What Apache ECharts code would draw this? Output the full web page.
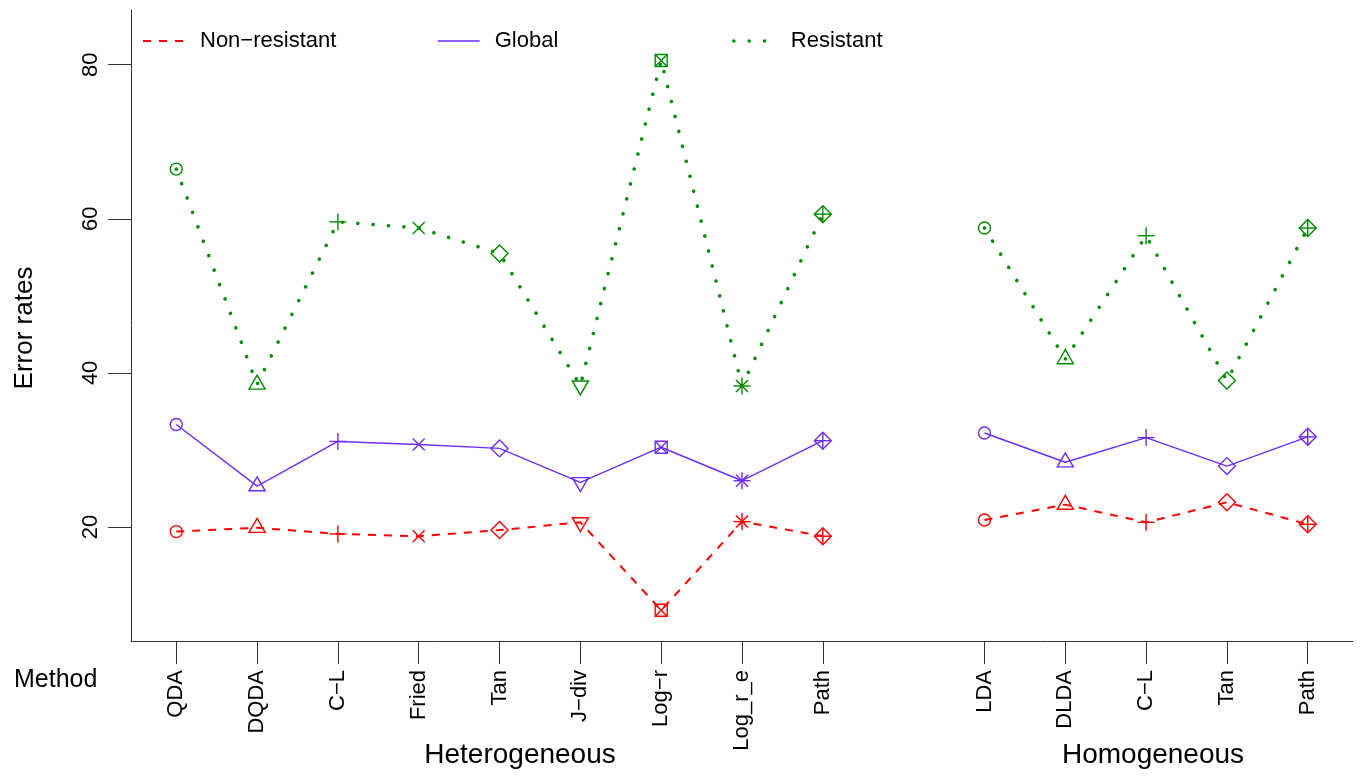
<!DOCTYPE html>
<html>
<head>
<meta charset="utf-8">
<title>Error rates by method</title>
<script src="https://cdn.jsdelivr.net/npm/echarts@6/dist/echarts.min.js"></script>
<style>
  html, body { margin: 0; padding: 0; background: #ffffff; }
  #chart { width: 1361px; height: 776px; }
</style>
</head>
<body>
<div id="chart"></div>
<script>
// Methods, grouped: heterogeneous (1-9) and homogeneous (11-15)
const methods = ['QDA', 'DQDA', 'C\u2212L', 'Fried', 'Tan', 'J\u2212div', 'Log\u2212r', 'Log_r_e', 'Path',
                 'LDA', 'DLDA', 'C\u2212L', 'Tan', 'Path'];
const positions = [1, 2, 3, 4, 5, 6, 7, 8, 9, 11, 12, 13, 14, 15];
const markerShapes = ['circle', 'triangle', 'plus', 'cross', 'diamond', 'triangleDown', 'squareCross', 'asterisk', 'diamondPlus',
                      'circle', 'triangle', 'plus', 'diamond', 'diamondPlus'];

// Error rates (%)
const nonResistant = [19.4, 19.9, 19.1, 18.8, 19.6, 20.6, 9.2, 20.7, 18.8, 20.9, 22.9, 20.6, 23.2, 20.35];
const globalRates  = [33.3, 25.3, 31.1, 30.7, 30.2, 25.8, 30.35, 26.0, 31.2, 32.2, 28.4, 31.6, 27.9, 31.7];
const resistant    = [66.45, 38.5, 59.6, 58.8, 55.5, 38.35, 80.55, 38.3, 60.6, 58.8, 41.8, 57.8, 39.0, 58.8];

const yTicks = [20, 40, 60, 80];

const seriesNames = ['Non\u2212resistant', 'Global', 'Resistant'];
const seriesColors = ['#ff0000', '#6e2cff', '#008b00'];

const FONT = '"Liberation Sans", Arial, Helvetica, sans-serif';

// Line points with a break between the two method groups
function linePoints(values) {
  const pts = [];
  for (let i = 0; i < positions.length; i++) {
    if (i > 0 && positions[i] - positions[i - 1] > 1) pts.push([positions[i - 1] + 1, '-']);
    pts.push([positions[i], values[i]]);
  }
  return pts;
}

// Open plotting symbols
const R0 = 6;
const R2 = R0 * Math.SQRT2;
function seg(x1, y1, x2, y2, style) {
  return { type: 'line', shape: { x1: x1, y1: y1, x2: x2, y2: y2 }, style: style };
}
function plusAt(x, y, r, style) {
  return [seg(x - r, y, x + r, y, style), seg(x, y - r, x, y + r, style)];
}
function crossAt(x, y, r, style) {
  return [seg(x - r, y - r, x + r, y + r, style), seg(x - r, y + r, x + r, y - r, style)];
}
function diamondAt(x, y, r, style) {
  return { type: 'polygon', shape: { points: [[x, y - r], [x + r, y], [x, y + r], [x - r, y]] }, style: style };
}
function markerShape(kind, x, y, color) {
  const style = { stroke: color, fill: null, lineWidth: 1.4 };
  const tr = 1.5551 * R0, tx = 1.3468 * R0, ty = 0.7776 * R0;
  switch (kind) {
    case 'circle':
      return [{ type: 'circle', shape: { cx: x, cy: y, r: R0 }, style: style }];
    case 'triangle':
      return [{ type: 'polygon', shape: { points: [[x, y - tr], [x + tx, y + ty], [x - tx, y + ty]] }, style: style }];
    case 'triangleDown':
      return [{ type: 'polygon', shape: { points: [[x, y + tr], [x + tx, y - ty], [x - tx, y - ty]] }, style: style }];
    case 'plus':
      return plusAt(x, y, R2, style);
    case 'cross':
      return crossAt(x, y, R0, style);
    case 'diamond':
      return [diamondAt(x, y, R2, style)];
    case 'squareCross':
      return [{ type: 'rect', shape: { x: x - R0, y: y - R0, width: 2 * R0, height: 2 * R0 }, style: style }]
        .concat(crossAt(x, y, R0, style));
    case 'asterisk':
      return plusAt(x, y, R2, style).concat(crossAt(x, y, R0, style));
    case 'diamondPlus':
      return [diamondAt(x, y, R2, style)].concat(plusAt(x, y, R2, style));
  }
  return [];
}

function markerSeries(values, color) {
  return {
    type: 'custom',
    name: 'markers',
    data: positions.map((p, i) => [p, values[i], i]),
    encode: { x: 0, y: 1 },
    z: 3,
    silent: true,
    renderItem: function (params, api) {
      const pt = api.coord([api.value(0), api.value(1)]);
      return { type: 'group', children: markerShape(markerShapes[api.value(2)], pt[0], pt[1], color) };
    }
  };
}

const lineStyles = [
  { color: seriesColors[0], width: 2, type: [8, 8], cap: 'butt' },
  { color: seriesColors[1], width: 1.4, type: 'solid', cap: 'butt' },
  { color: seriesColors[2], width: 3.6, type: [0.01, 15.4], cap: 'round' }
];
const dataSets = [nonResistant, globalRates, resistant];

const series = [];
dataSets.forEach((vals, k) => {
  series.push({
    type: 'line',
    name: seriesNames[k],
    data: linePoints(vals),
    symbol: 'none',
    showSymbol: false,
    connectNulls: false,
    lineStyle: lineStyles[k],
    itemStyle: { color: seriesColors[k] },
    z: 2,
    animation: false
  });
});
dataSets.forEach((vals, k) => series.push(markerSeries(vals, seriesColors[k])));

// One legend entry per series, line sample only
function legendAt(k, left) {
  return {
    data: [seriesNames[k]],
    left: left,
    top: 25,
    itemWidth: 42,
    itemHeight: 24,
    selectedMode: false,
    itemStyle: { opacity: 0 },
    lineStyle: Object.assign({}, lineStyles[k]),
    textStyle: { fontFamily: FONT, fontSize: 22, color: '#000', padding: [0, 0, 0, 10] }
  };
}

const chart = echarts.init(document.getElementById('chart'), null, { renderer: 'canvas' });
chart.setOption({
  animation: false,
  backgroundColor: '#ffffff',
  grid: { left: 131, top: 10, right: 8, bottom: 135, containLabel: false },
  legend: [
    legendAt(0, 137),
    legendAt(1, 432),
    legendAt(2, 727)
  ],
  xAxis: {
    type: 'value',
    min: 0.44,
    max: 15.56,
    splitLine: { show: false },
    axisLine: { show: true, onZero: false, lineStyle: { color: '#333', width: 1 } },
    axisTick: { show: true, length: 23, customValues: positions, lineStyle: { color: '#333', width: 1 } },
    axisLabel: {
      customValues: positions,
      rotate: 90,
      margin: 29,
      fontFamily: FONT,
      fontSize: 22,
      color: '#000',
      formatter: function (v) { return methods[positions.indexOf(v)]; }
    }
  },
  yAxis: {
    type: 'value',
    min: 5.2,
    max: 87.1,
    splitLine: { show: false },
    axisLine: { show: true, onZero: false, lineStyle: { color: '#333', width: 1 } },
    axisTick: { show: true, length: 23, customValues: yTicks, lineStyle: { color: '#333', width: 1 } },
    axisLabel: {
      customValues: yTicks,
      rotate: 90,
      margin: 29,
      fontFamily: FONT,
      fontSize: 22,
      color: '#000'
    }
  },
  graphic: [
    { type: 'text', left: 14, top: 668, style: { text: 'Method', font: '25px ' + FONT, fill: '#000' } },
    { type: 'text', x: 520, y: 755, style: { text: 'Heterogeneous', font: '28px ' + FONT, fill: '#000', align: 'center', verticalAlign: 'middle' } },
    { type: 'text', x: 1153, y: 755, style: { text: 'Homogeneous', font: '28px ' + FONT, fill: '#000', align: 'center', verticalAlign: 'middle' } },
    { type: 'text', x: 25, y: 328, rotation: Math.PI / 2, style: { text: 'Error rates', font: '26px ' + FONT, fill: '#000', align: 'center', verticalAlign: 'middle' } }
  ],
  series: series
});
</script>
</body>
</html>
